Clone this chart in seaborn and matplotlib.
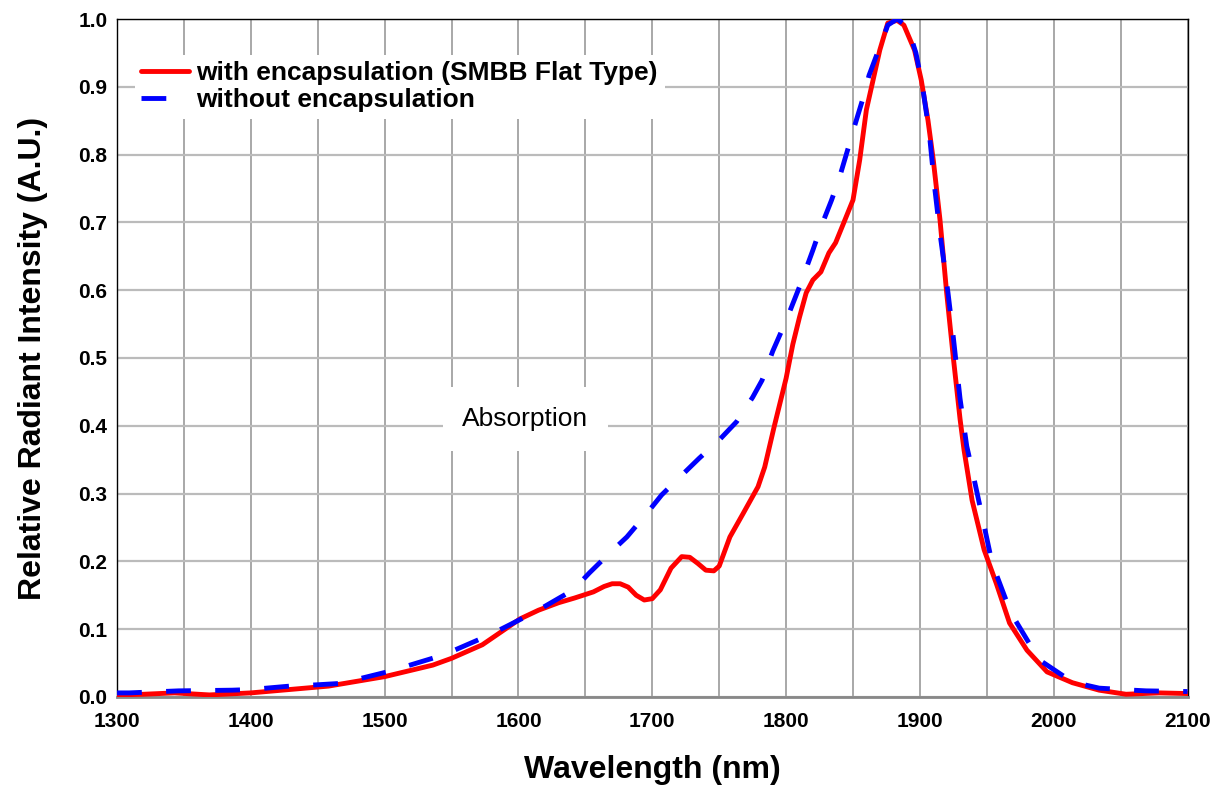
import numpy as np
import pandas as pd
import seaborn as sns
import matplotlib.pyplot as plt
from matplotlib.ticker import MultipleLocator

# spectra
wl_encap = [1300, 1320, 1343, 1369, 1400, 1429, 1458, 1500, 1536, 1550, 1573, 1590, 1601, 1615,
            1630, 1642, 1656, 1664, 1670, 1676, 1682, 1688, 1694, 1700, 1706, 1714, 1722, 1728,
            1734, 1740, 1746, 1750, 1758, 1768, 1779, 1784, 1791, 1800, 1805, 1810, 1815, 1820,
            1826, 1832, 1837, 1843, 1850, 1855, 1860, 1865, 1870, 1876, 1883, 1888, 1896, 1901,
            1906, 1910, 1915, 1920, 1925, 1930, 1933, 1939, 1948, 1957, 1967, 1980, 1995, 2014,
            2034, 2054, 2079, 2100]
int_encap = [0.003, 0.004, 0.006, 0.003, 0.006, 0.011, 0.016, 0.030, 0.047, 0.057, 0.077, 0.100,
             0.115, 0.128, 0.139, 0.146, 0.155, 0.163, 0.167, 0.167, 0.162, 0.150, 0.143, 0.145,
             0.158, 0.190, 0.207, 0.206, 0.197, 0.187, 0.186, 0.193, 0.236, 0.271, 0.310, 0.339,
             0.398, 0.470, 0.520, 0.560, 0.596, 0.615, 0.627, 0.655, 0.670, 0.699, 0.733, 0.792,
             0.866, 0.910, 0.954, 0.994, 0.998, 0.991, 0.954, 0.910, 0.851, 0.792, 0.704, 0.596,
             0.500, 0.410, 0.364, 0.290, 0.217, 0.168, 0.109, 0.069, 0.037, 0.021, 0.010, 0.004,
             0.006, 0.005]

wl_bare = [1300, 1309, 1346, 1386, 1400, 1429, 1450, 1467, 1504, 1544, 1579, 1613, 1641, 1653,
           1668, 1681, 1696, 1707, 1722, 1735, 1750, 1763, 1775, 1782, 1790, 1800, 1810, 1820,
           1826, 1834, 1840, 1846, 1851, 1857, 1862, 1870, 1876, 1883, 1891, 1897, 1902, 1907,
           1911, 1915, 1921, 1925, 1930, 1935, 1939, 1946, 1954, 1968, 1989, 2014, 2034, 2059,
           2069, 2100]
int_bare = [0.006, 0.006, 0.009, 0.010, 0.011, 0.016, 0.018, 0.020, 0.038, 0.062, 0.092, 0.126,
            0.158, 0.183, 0.212, 0.236, 0.271, 0.298, 0.327, 0.352, 0.379, 0.406, 0.442, 0.467,
            0.510, 0.555, 0.605, 0.659, 0.693, 0.733, 0.767, 0.807, 0.841, 0.880, 0.917, 0.959,
            0.991, 1.000, 0.988, 0.950, 0.900, 0.832, 0.752, 0.684, 0.596, 0.530, 0.440, 0.370,
            0.335, 0.271, 0.197, 0.124, 0.055, 0.022, 0.013, 0.010, 0.009, 0.008]

label_encap = "with encapsulation (SMBB Flat Type)"
label_bare = "without encapsulation"

sns.set_style("white")
plt.rcParams["font.family"] = ["Liberation Sans", "DejaVu Sans"]
plt.rcParams["text.color"] = "black"
plt.rcParams["xtick.color"] = "black"
plt.rcParams["ytick.color"] = "black"
plt.rcParams["axes.labelcolor"] = "black"

fig, ax = plt.subplots(figsize=(12.13, 7.92), dpi=100)
fig.subplots_adjust(left=0.0965, right=0.979, top=0.976, bottom=0.12)

red = pd.DataFrame({"wl": wl_encap, "val": int_encap})
blue = pd.DataFrame({"wl": wl_bare, "val": int_bare})
sns.lineplot(data=red, x="wl", y="val", color="#ff0000", lw=3.5, ax=ax, label=label_encap, zorder=3)
sns.lineplot(data=blue, x="wl", y="val", color="#0000ff", lw=3.5, ax=ax, label=label_bare, zorder=4)
ax.lines[1].set_dashes((5.1, 5.0))

ax.set_xlim(1300, 2100)
ax.set_ylim(0, 1.0)
ax.xaxis.set_major_locator(MultipleLocator(100))
ax.xaxis.set_minor_locator(MultipleLocator(50))
ax.yaxis.set_major_locator(MultipleLocator(0.1))
ax.grid(axis="x", which="both", color="#999999", lw=1.2)
ax.grid(axis="y", which="major", color="#bbbbbb", lw=1.6)
ax.set_axisbelow(True)
ax.tick_params(which="both", length=0, labelsize=15)
ax.tick_params(axis="x", pad=11)
ax.tick_params(axis="y", pad=7)
for t in ax.get_xticklabels() + ax.get_yticklabels():
    t.set_fontweight("bold")
ax.yaxis.set_major_formatter(plt.FuncFormatter(lambda v, p: f"{v:.1f}"))

for s in ["left", "top", "right"]:
    ax.spines[s].set_color("black")
    ax.spines[s].set_linewidth(1.0)
ax.spines["bottom"].set_color("#888888")
ax.spines["bottom"].set_linewidth(2)

ax.set_xlabel("Wavelength (nm)", fontsize=23, fontweight="bold", labelpad=17)
ax.set_ylabel("Relative Radiant Intensity (A.U.)", fontsize=23, fontweight="bold", labelpad=22)

ax.text(1605, 0.41, "Absorption", fontsize=19, ha="center", va="center",
        bbox=dict(facecolor="white", edgecolor="none", pad=14))

leg = ax.legend(loc="upper left", bbox_to_anchor=(0.004, 0.967), frameon=True, fancybox=False,
                framealpha=1, edgecolor="none", facecolor="white", handlelength=1.8,
                handletextpad=0.3, borderpad=0.25, labelspacing=0.12,
                prop={"size": 19, "weight": "bold"})

plt.savefig("out.png", dpi=100)
